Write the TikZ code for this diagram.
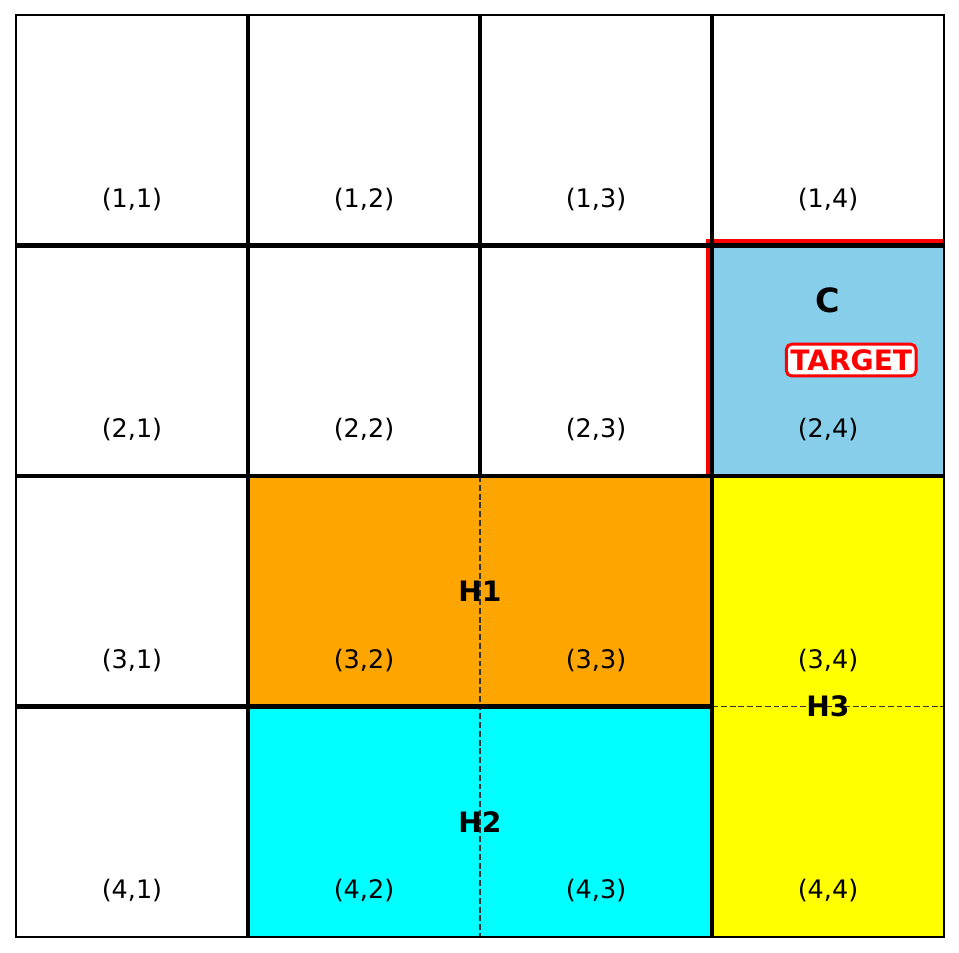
\documentclass[tikz,border=0pt]{standalone}
\usepackage{fontspec}
\setmainfont{DejaVu Sans}
\definecolor{skyblue}{HTML}{87CEEB}
\definecolor{holeorange}{HTML}{FFA500}
\definecolor{holecyan}{HTML}{00FFFF}
\definecolor{holeyellow}{HTML}{FFFF00}
\begin{document}
\begin{tikzpicture}[x=4.64cm, y=-4.61cm,
  every node/.style={font=\fontsize{14.5}{17}\selectfont},
  gridline/.style={line width=2.3pt},
  hole/.style={font=\fontsize{16}{19}\selectfont\bfseries},
  split/.style={dash pattern=on 3.4pt off 1.6pt, line width=1pt, black!80}]
  \useasboundingbox (-0.32cm,0.3cm) rectangle (18.86cm,-18.76cm);
  % coloured blocks
  \fill[skyblue] (3,1) rectangle (4,2);
  \fill[holeorange] (1,2) rectangle (3,3);
  \fill[holecyan] (1,3) rectangle (3,4);
  \fill[holeyellow] (3,2) rectangle (4,4);
  % cell borders inside the blocks
  \draw[split] (2,2) -- (2,4);
  \draw[split] (3,3) -- (4,3);
  % target frame (top and left peek out)
  \draw[red, line width=2.4pt] ([xshift=-0.08cm]3,2) -- ([xshift=-0.08cm,yshift=0.08cm]3,1) -- ([yshift=0.08cm]4,1);
  % grid
  \draw[gridline] (0,1) -- (4,1);
  \draw[gridline] (0,2) -- (4,2);
  \draw[gridline] (0,3) -- (3,3);
  \draw[gridline] (1,0) -- (1,4);
  \draw[gridline] (2,0) -- (2,2);
  \draw[gridline] (3,0) -- (3,4);
  \draw[line width=1.1pt] (0,0) rectangle (4,4);
  % cell labels
  \foreach \r in {1,...,4}
    \foreach \c in {1,...,4}
      \node (c\r\c) at (\c-0.5,\r-0.2) {(\r,\c)};
  \node[hole] (h1) at (2,2.5) {H1};
  \node[hole] (h2) at (2,3.5) {H2};
  \node[hole] (h3) at (3.5,3) {H3};
  \node[font=\fontsize{19}{22}\selectfont\bfseries] (goal) at (3.5,1.24) {C};
  \node[draw=red, line width=1.7pt, fill=white, rounded corners=3pt, text=red,
    inner xsep=2.2pt, inner ysep=3pt, font=\fontsize{16}{19}\selectfont\bfseries] (tgt) at (3.6,1.497) {TARGET};
\end{tikzpicture}
\end{document}
